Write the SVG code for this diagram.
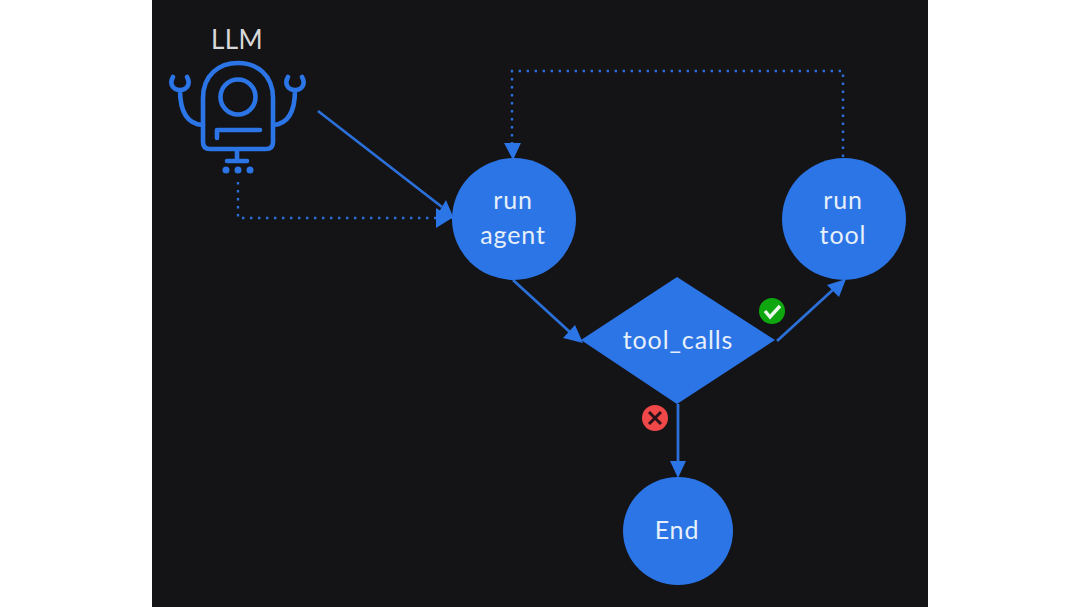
<svg xmlns="http://www.w3.org/2000/svg" width="1080" height="607" viewBox="0 0 1080 607">
<defs>
<style>
.node{fill:#2b75e6}
.lbl{font-family:Lato,"Liberation Sans",sans-serif;font-size:25px;fill:#e6effa;text-anchor:middle;letter-spacing:.9px}
.solid{fill:none;stroke:#2b6fd8;stroke-width:2.8}
.dot{fill:none;stroke:#2b6fd8;stroke-width:2.4;stroke-dasharray:2.4 5.6}
.robot{fill:none;stroke:#2b75e6;stroke-width:4.6;stroke-linecap:round;stroke-linejoin:round}
.head{fill:#2b75e6}
</style>
</defs>
<rect width="1080" height="607" fill="#ffffff"/>
<rect x="152" y="0" width="776" height="607" fill="#141316"/>
<g id="connectors">
<path class="solid" d="M318 111L442 207"/>
<polygon class="head" points="454,219 436,217 446,200"/>
<path class="dot" d="M238 182V218H438"/>
<polygon class="head" points="452,218 436,228 436,208"/>
<path class="dot" d="M843 157V71H512V145"/>
<polygon class="head" points="513,160 504,143 521,143"/>
<path class="solid" d="M513 280L572 334"/>
<polygon class="head" points="583,343 563,338 575,325"/>
<path class="solid" d="M777 341L836 287"/>
<polygon class="head" points="846,279 839,297 827,285"/>
<path class="solid" d="M678 404V465"/>
<polygon class="head" points="678,478 670,461 686,461"/>
</g>
<g id="llm">
<text class="lbl" x="237" y="49" style="fill:#d8d8d8;font-size:26px;letter-spacing:.4px">LLM</text>
<path class="robot" d="M203 142V98C203 75 219 63 238 63C257 63 273 75 273 98V142Q273 149 266 149H210Q203 149 203 142Z"/>
<circle class="robot" cx="238" cy="97" r="17.500"/>
<path class="robot" d="M217 138V130H260"/>
<path class="robot" d="M173 77C169 84 173 90 180 90C187 90 191 84 187 77M180 90C180 110 186 124 203 125"/>
<path class="robot" d="M288 77C284 84 288 90 295 90C302 90 306 84 302 77M295 90C295 110 289 124 273 125"/>
<path class="robot" d="M237 150V161M227 161H247"/>
<circle class="head" cx="226" cy="170" r="3.500"/><circle class="head" cx="238" cy="170" r="3.500"/><circle class="head" cx="250" cy="170" r="3.500"/>
</g>
<g id="run-agent">
<ellipse class="node" cx="514" cy="219" rx="62" ry="61"/>
<text class="lbl" x="513" y="209">run</text>
<text class="lbl" x="513" y="244">agent</text>
</g>
<g id="run-tool">
<ellipse class="node" cx="844" cy="219" rx="62" ry="61"/>
<text class="lbl" x="843" y="209">run</text>
<text class="lbl" x="843" y="244">tool</text>
</g>
<g id="tool-calls">
<polygon class="node" points="677,277 775,340 677,404 581,340"/>
<text class="lbl" x="678" y="349">tool_calls</text>
</g>
<g id="end">
<ellipse class="node" cx="678" cy="531" rx="55" ry="54"/>
<text class="lbl" x="677" y="539">End</text>
</g>
<g id="yes">
<circle cx="772" cy="311" r="13" fill="#0fa70f"/>
<path d="M765 311L770 317L780 306" fill="none" stroke="#ecf8ec" stroke-width="3.400"/>
</g>
<g id="no">
<circle cx="655" cy="418" r="13" fill="#f04848"/>
<path d="M649 412L661 424M661 412L649 424" fill="none" stroke="#2a1218" stroke-width="3"/>
</g>
</svg>
